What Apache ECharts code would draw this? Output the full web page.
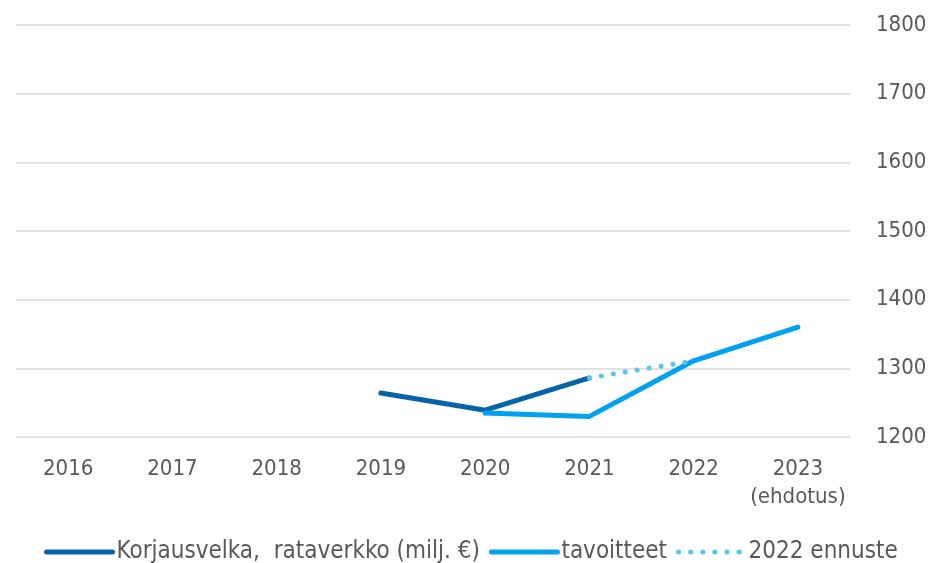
<!DOCTYPE html>
<html>
<head>
<meta charset="utf-8">
<script src="https://cdn.jsdelivr.net/npm/echarts@6/dist/echarts.min.js"></script>
<style>
    html, body { margin: 0; padding: 0; background: #fff; }
    #chart { width: 930px; height: 563px; }
</style>
</head>
<body>
<div id="chart"></div>
<script>
// data
var years = ['2016', '2017', '2018', '2019', '2020', '2021', '2022', '2023\n(ehdotus)'];
var korjausvelka = [null, null, null, 1264, 1239, 1286, null, null];
var tavoitteet = [null, null, null, null, 1235, 1230, 1311, 1360];
var ennuste = [null, null, null, null, null, 1286, 1311, null];
var yMin = 1200, yMax = 1800, yStep = 100;

var textColor = '#595959';
var font = "'DejaVu Sans Condensed', 'Liberation Sans Narrow', 'DejaVu Sans'";
var fs = 22;

var chart = echarts.init(document.getElementById('chart'));
var option = {
    animation: false,
    textStyle: { fontFamily: font, color: textColor },
    grid: { left: 16, right: 80, top: 25, bottom: 126 },
    legend: {
        left: 39,
        top: 535,
        itemWidth: 66,
        itemHeight: 10,
        itemGap: 9,
        itemStyle: { color: 'transparent', borderWidth: 0 },
        lineStyle: { width: 5 },
        textStyle: { fontSize: 24, color: textColor, fontFamily: font, padding: [0, 0, 0, -1] },
        data: ['Korjausvelka,  rataverkko (milj. €)', 'tavoitteet', '2022 ennuste']
    },
    xAxis: {
        type: 'category',
        data: years,
        axisLine: { show: false },
        axisTick: { show: false },
        axisLabel: { fontSize: fs, color: textColor, margin: 18, lineHeight: 28, interval: 0 }
    },
    yAxis: {
        type: 'value',
        position: 'right',
        min: yMin,
        max: yMax,
        interval: yStep,
        axisLine: { show: false },
        axisTick: { show: false },
        axisLabel: {
            fontSize: fs, color: textColor, margin: 26,
            formatter: function (v) { return String(v); }
        },
        splitLine: { lineStyle: { color: '#D9D9D9', width: 1.5 } }
    },
    series: [
        {
            name: 'Korjausvelka,  rataverkko (milj. €)',
            type: 'line',
            data: korjausvelka,
            symbol: 'none',
            color: '#0563A8',
            lineStyle: { width: 5, cap: 'round', color: '#0563A8' }
        },
        {
            name: 'tavoitteet',
            type: 'line',
            data: tavoitteet,
            symbol: 'none',
            color: '#00A1F1',
            lineStyle: { width: 5, cap: 'round', color: '#00A1F1' }
        },
        {
            name: '2022 ennuste',
            type: 'line',
            data: ennuste,
            symbol: 'none',
            color: '#5BC4F1',
            lineStyle: { width: 5, cap: 'round', type: [0.1, 12], color: '#5BC4F1' }
        }
    ]
};
chart.setOption(option);
</script>
</body>
</html>
